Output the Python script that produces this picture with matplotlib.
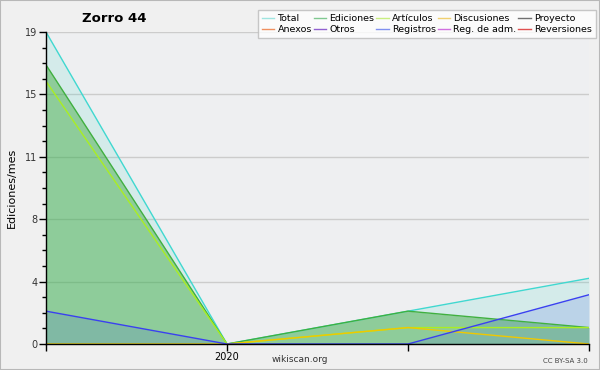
import matplotlib
matplotlib.use("Agg")
import matplotlib.pyplot as plt
from matplotlib.ticker import FixedLocator, MultipleLocator
from matplotlib.lines import Line2D
from matplotlib.patches import Rectangle

months = [0, 1, 2, 3]
xlabels = ["", "2020", "", ""]
total = [19, 0, 2, 4]
ediciones = [17, 0, 2, 1]
articulos = [16, 0, 1, 1]
discusiones = [0, 0, 1, 0]
registros = [2, 0, 0, 3]

legend_names = ["Total", "Ediciones", "Artículos", "Discusiones", "Proyecto",
                "Anexos", "Otros", "Registros", "Reg. de adm.", "Reversiones"]
legend_colors = ["#9fe5e0", "#80c890", "#c8ee80", "#f0d070", "#707070",
                 "#f09060", "#9060d0", "#8090f0", "#d070e0", "#e05050"]

fig = plt.figure(figsize=(6, 3.7), dpi=100, facecolor="#f0f0f0")
ax = fig.add_axes([46/600, 1-344/370, (589-46)/600, (344-32)/370])
ax.set_facecolor("#eeeff1")

ax.fill_between(months, total, color="#40d8c8", alpha=0.15, lw=0)
ax.fill_between(months, ediciones, color="#3aa83a", alpha=0.45, lw=0)
ax.fill_between(months, registros, color="#3050e0", alpha=0.15, lw=0)
ax.plot(months, total, color="#40d8d0", lw=1)
ax.plot(months, ediciones, color="#40b040", lw=1)
ax.plot(months, articulos, color="#aaee22", lw=1)
ax.plot(months, discusiones, color="#f0c800", lw=1)
ax.plot(months, registros, color="#3a40f0", lw=1)

ax.set_xlim(0, 3)
ax.set_ylim(0, 19)
ax.set_xticks(months)
ax.set_xticklabels(xlabels, fontsize=7)
yt = [19 * i / 5 for i in range(6)]
ax.yaxis.set_major_locator(FixedLocator(yt))
ax.set_yticklabels([str(round(v)) for v in yt], fontsize=7, color="#333333")
ax.yaxis.set_minor_locator(MultipleLocator(0.95))
ax.tick_params(axis="y", which="major", length=5, width=1, pad=1)
ax.tick_params(axis="y", which="minor", length=3, width=1)
ax.tick_params(axis="x", length=5, width=1, pad=1)
ax.grid(axis="y", color="#cccccc", lw=1)
ax.set_axisbelow(True)
for s in ["top", "right"]:
    ax.spines[s].set_visible(False)
ax.spines["left"].set_linewidth(1)
ax.spines["bottom"].set_linewidth(1)
ax.set_ylabel("Ediciones/mes", fontsize=8, labelpad=6)

fig.text(114/600, 1-19/370, "Zorro 44", fontsize=9.5, fontweight="bold", ha="center", va="center")
fig.text(300/600, 1-360/370, "wikiscan.org", fontsize=6.5, ha="center", va="center", color="#333333")
fig.text(588/600, 1-361/370, "CC BY-SA 3.0", fontsize=5, ha="right", va="center", color="#444444")

handles = [Line2D([0], [0], color=c, lw=1) for c in legend_colors]
order = []
for c in range(5):
    order += [c, c + 5]
leg = fig.legend([handles[i] for i in order], [legend_names[i] for i in order],
                 ncol=5, loc="upper right", bbox_to_anchor=(596/600, 1-10/370),
                 fontsize=6.8, frameon=True, fancybox=False, handlelength=1.3,
                 handletextpad=0.35, columnspacing=0.2, labelspacing=0.2,
                 borderpad=0.45, borderaxespad=0)
leg.get_frame().set_edgecolor("#bbbbbb")
leg.get_frame().set_facecolor("#ffffff")
leg.get_frame().set_linewidth(1)

fig.patches.append(Rectangle((0, 0), 1, 1, transform=fig.transFigure, fill=False,
                             edgecolor="#b8b8b8", lw=1.5))
fig.savefig("out.png", dpi=100, facecolor=fig.get_facecolor())
